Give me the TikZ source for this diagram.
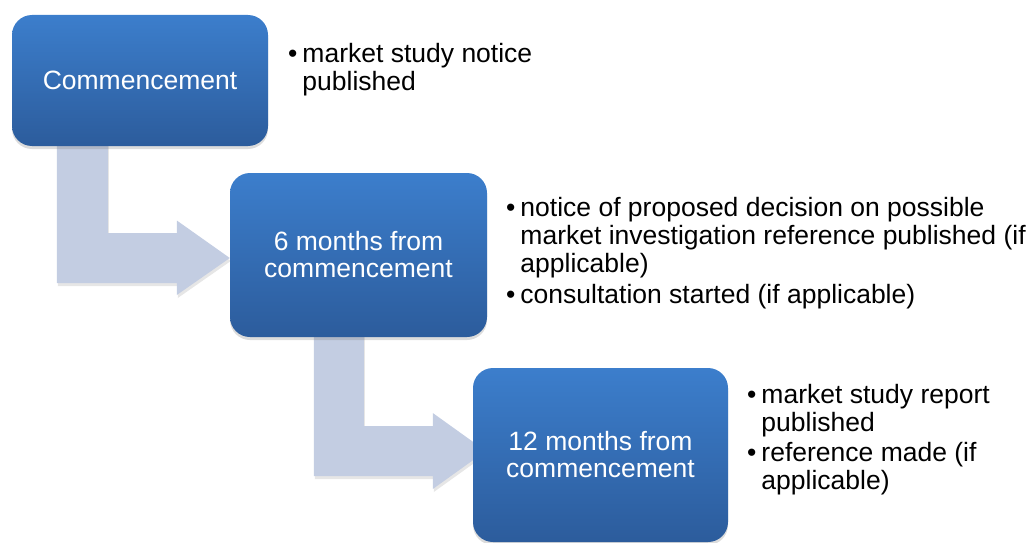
\documentclass[tikz,border=0pt]{standalone}
\usepackage{fontspec}
\setmainfont{Liberation Sans}
\usetikzlibrary{calc,shadows}
\pgfdeclarelayer{bg}
\pgfsetlayers{bg,main}
\definecolor{boxtop}{RGB}{60,126,204}
\definecolor{boxbot}{RGB}{44,92,156}
\definecolor{arrowfill}{RGB}{195,205,226}
\tikzset{
  stagebox/.style={rectangle, rounded corners=20pt, top color=boxtop, bottom color=boxbot,
    draw=none, text=white, align=center, inner sep=0pt,
    font=\fontsize{26.5}{27}\selectfont,
    drop shadow={opacity=0.28, shadow xshift=0pt, shadow yshift=-3pt}},
  bentarrow/.style={fill=arrowfill, draw=none,
    drop shadow={opacity=0.2, shadow xshift=1pt, shadow yshift=-3pt}},
  notes/.style={anchor=base west, inner sep=0pt, text=black,
    font=\fontsize{26.5}{28}\selectfont}
}
\newcommand{\bul}{\textbullet}
\begin{document}
\begin{tikzpicture}[x=1pt,y=-1pt]
\useasboundingbox (0,0) rectangle (1028,543);
\node[stagebox, minimum width=256pt, minimum height=131pt] (b1) at (140,80.5) {Commencement};
\node[stagebox, minimum width=257pt, minimum height=164pt] (b2) at (358.5,255) {6 months from\\commencement};
\node[stagebox, minimum width=255pt, minimum height=174pt] (b3) at (600.5,455) {12 months from\\commencement};
\coordinate (t1) at ($(b2.west)+(0,3)$);
\coordinate (t2) at ($(b3.west)+(13,-4)$);
\begin{pgfonlayer}{bg}
\fill[bentarrow] ($(b1.south west)+(45,-6)$) |- ($(t1)+(-53,25)$) -- ++(0,12) -- (t1)
  -- ++(-53,-37.5) -- ++(0,12.5) -| ($(b1.south west)+(96,-6)$) -- cycle;
\fill[bentarrow] ($(b2.south west)+(84,-6)$) |- ($(t2)+(-53,25)$) -- ++(0,13) -- (t2)
  -- ++(-53,-38) -- ++(0,13) -| ($(b2.south west)+(134,-6)$) -- cycle;
\end{pgfonlayer}
\node[notes] (n1) at (288,63) {\begin{tabular}[t]{@{}l@{\hspace{5pt}}l@{}}
\bul & market study notice\\
     & published
\end{tabular}};
\node[notes] (n2) at (506,216) {\begin{tabular}[t]{@{}l@{\hspace{5pt}}l@{}}
\bul & notice of proposed decision on possible\\
     & market investigation reference published (if\\
     & applicable)\\[3pt]
\bul & consultation started (if applicable)
\end{tabular}};
\node[notes] (n3) at (747,403) {\begin{tabular}[t]{@{}l@{\hspace{5pt}}l@{}}
\bul & market study report\\
     & published\\[2pt]
\bul & reference made (if\\
     & applicable)
\end{tabular}};
\end{tikzpicture}
\end{document}
